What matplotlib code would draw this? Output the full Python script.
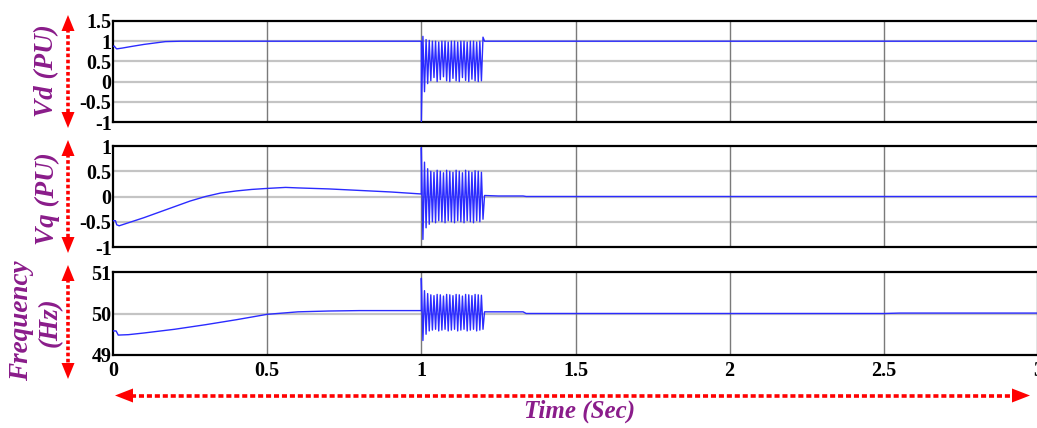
import numpy as np
import matplotlib
matplotlib.use("Agg")
import matplotlib.pyplot as plt
from matplotlib.lines import Line2D
from matplotlib.patches import Polygon

# ---- values (time in seconds) ----
vd_pre_t = [0.0, 0.004, 0.008, 0.012, 0.03, 0.06, 0.10, 0.14, 0.17, 0.22, 1.0]
vd_pre = [0.87, 0.88, 0.84, 0.81, 0.83, 0.87, 0.92, 0.96, 0.99, 1.0, 1.0]
vd_osc_lo = [-1.0, -0.25, -0.05, 0.02, 0.10, 0.0, 0.05, 0.12, 0.02, 0.0,
             0.08, 0.02, 0.0, 0.10, 0.03, 0.0, 0.06, 0.02, 0.0, 0.02]
vd_osc_hi = [1.12, 1.04, 1.02, 1.0, 1.0, 0.98, 1.0, 1.0, 0.98, 1.0,
             1.0, 0.98, 1.0, 1.0, 0.98, 1.0, 1.0, 0.98, 1.0, 1.10]
vd_post_t = [1.205, 1.21, 3.0]
vd_post = [1.0, 1.0, 1.0]

vq_pre_t = [0.0, 0.008, 0.012, 0.02, 0.05, 0.10, 0.15, 0.20, 0.25, 0.30,
            0.35, 0.40, 0.45, 0.50, 0.56, 0.60, 0.70, 0.80, 0.90, 1.0]
vq_pre = [-0.48, -0.48, -0.56, -0.58, -0.52, -0.42, -0.31, -0.20, -0.09, 0.0,
          0.07, 0.11, 0.14, 0.16, 0.18, 0.17, 0.15, 0.12, 0.09, 0.05]
vq_osc_hi = [0.97, 0.68, 0.55, 0.50, 0.48, 0.52, 0.50, 0.47, 0.52, 0.50,
             0.48, 0.52, 0.50, 0.47, 0.52, 0.50, 0.48, 0.51, 0.50, 0.48]
vq_osc_lo = [-0.85, -0.62, -0.55, -0.50, -0.52, -0.48, -0.50, -0.52, -0.48, -0.50,
             -0.52, -0.48, -0.50, -0.52, -0.48, -0.50, -0.52, -0.48, -0.50, -0.45]
vq_post_t = [1.205, 1.25, 1.33, 1.34, 3.0]
vq_post = [0.02, 0.01, 0.01, 0.0, 0.0]

fr_pre_t = [0.0, 0.010, 0.017, 0.05, 0.10, 0.20, 0.30, 0.40, 0.50, 0.60,
            0.70, 0.80, 1.0]
fr_pre = [49.58, 49.58, 49.48, 49.49, 49.53, 49.62, 49.73, 49.85, 49.98, 50.04,
          50.06, 50.07, 50.07]
fr_osc_hi = [50.85, 50.55, 50.48, 50.45, 50.43, 50.46, 50.45, 50.42, 50.46, 50.45,
             50.43, 50.46, 50.45, 50.42, 50.46, 50.45, 50.43, 50.46, 50.45, 50.44]
fr_osc_lo = [49.35, 49.50, 49.58, 49.60, 49.62, 49.58, 49.60, 49.62, 49.58, 49.60,
             49.62, 49.58, 49.60, 49.62, 49.58, 49.60, 49.62, 49.58, 49.60, 49.62]
fr_post_t = [1.205, 1.33, 1.34, 2.5, 2.55, 3.0]
fr_post = [50.04, 50.04, 50.0, 50.0, 50.01, 50.01]

osc_start, osc_end = 1.0, 1.2

x_ticks = [0, 0.5, 1, 1.5, 2, 2.5, 3]
x_labels = ["0", "0.5", "1", "1.5", "2", "2.5", "3"]
vd_ticks = [-1, -0.5, 0, 0.5, 1, 1.5]
vq_ticks = [-1, -0.5, 0, 0.5, 1]
fr_ticks = [49, 50, 51]


def build(pre_t, pre, first, second, post_t, post):
    # ripple samples alternate between the two envelope lists
    n = len(first)
    osc_t = np.linspace(osc_start, osc_end, 2 * n)
    osc_v = np.empty(2 * n)
    osc_v[0::2] = first
    osc_v[1::2] = second
    t = np.concatenate([pre_t, osc_t, post_t])
    v = np.concatenate([pre, osc_v, post])
    return t, v


W, H = 1037, 428
plt.rcParams["axes.unicode_minus"] = False
fig = plt.figure(figsize=(W / 100, H / 100), dpi=100)

LINE = "#2b2bff"
PURPLE = "#8a1c8a"
RED = "#ff0000"
tick_font = dict(family="Liberation Serif", weight="bold", size=14.5)
label_font = dict(family="Liberation Serif", weight="bold", style="italic",
                  color=PURPLE)


def rect(top, bottom, left=113, right=1038):
    return [left / W, 1 - bottom / H, (right - left) / W, (bottom - top) / H]


panels = [
    (rect(21, 122), build(vd_pre_t, vd_pre, vd_osc_lo, vd_osc_hi, vd_post_t, vd_post),
     (-1, 1.5), vd_ticks),
    (rect(146, 247), build(vq_pre_t, vq_pre, vq_osc_hi, vq_osc_lo, vq_post_t, vq_post),
     (-1, 1), vq_ticks),
    (rect(272, 355), build(fr_pre_t, fr_pre, fr_osc_hi, fr_osc_lo, fr_post_t, fr_post),
     (49, 51), fr_ticks),
]

axes = []
for i, (r, (t, v), ylim, yt) in enumerate(panels):
    ax = fig.add_axes(r)
    ax.plot(t, v, color=LINE, lw=1.0, zorder=3)
    ax.set_xlim(0, 3)
    ax.set_ylim(*ylim)
    ax.set_yticks(yt)
    ax.set_yticklabels([f"{y:g}" for y in yt], fontdict=tick_font)
    ax.set_xticks(x_ticks)
    if i == 2:
        ax.set_xticklabels(x_labels, fontdict=tick_font)
    else:
        ax.set_xticklabels([])
    for y in yt:
        if ylim[0] < y < ylim[1]:
            ax.axhline(y, color="#c4c4c4", lw=1.6, zorder=1)
    for x in x_ticks[1:-1]:
        ax.axvline(x, color="#7a7a7a", lw=1.0, zorder=1)
    ax.tick_params(axis="y", length=0, pad=1)
    ax.tick_params(axis="x", length=0, pad=4)
    for s in ax.spines.values():
        s.set_linewidth(1.6)
    axes.append(ax)

# y labels
fig.text(47 / W, 1 - 71 / H, "Vd (PU)", rotation=90, ha="center", va="center",
         fontsize=19.5, **label_font)
fig.text(47 / W, 1 - 199 / H, "Vq (PU)", rotation=90, ha="center", va="center",
         fontsize=19.5, **label_font)
fig.text(22 / W, 1 - 321 / H, "Frequency", rotation=90, ha="center", va="center",
         fontsize=19.5, **label_font)
fig.text(50 / W, 1 - 322 / H, "(Hz)", rotation=90, ha="center", va="center",
         fontsize=19.5, **label_font)
fig.text(580 / W, 1 - 411 / H, "Time (Sec)", ha="center", va="center",
         fontsize=18, **label_font)


def head(tip, base_c, half_w):
    # triangle from tip to a base centred on base_c, in pixels
    tx, ty = tip
    bx, by = base_c
    dx, dy = tx - bx, ty - by
    L = np.hypot(dx, dy)
    nx, ny = -dy / L * half_w, dx / L * half_w
    pts = [(tx, ty), (bx + nx, by + ny), (bx - nx, by - ny)]
    pts = [(px / W, 1 - py / H) for px, py in pts]
    fig.add_artist(Polygon(pts, closed=True, color=RED, transform=fig.transFigure,
                           lw=0))


def v_arrow(x, y0, y1):
    fig.add_artist(Line2D([x / W, x / W], [1 - (y0 + 14) / H, 1 - (y1 - 14) / H],
                          color=RED, lw=2.6, ls=(0, (1.0, 0.7)),
                          transform=fig.transFigure))
    head((x, y0), (x, y0 + 16), 6.5)
    head((x, y1), (x, y1 - 16), 6.5)


v_arrow(68, 15, 128)
v_arrow(68, 140, 253)
v_arrow(68, 265, 379)

fig.add_artist(Line2D([(115 + 16) / W, (1030 - 16) / W], [1 - 395.5 / H] * 2,
                      color=RED, lw=2.6, ls=(0, (1.4, 0.8)),
                      transform=fig.transFigure))
head((115, 395.5), (133, 395.5), 7)
head((1030, 395.5), (1012, 395.5), 7)

fig.savefig("out.png", dpi=100)
